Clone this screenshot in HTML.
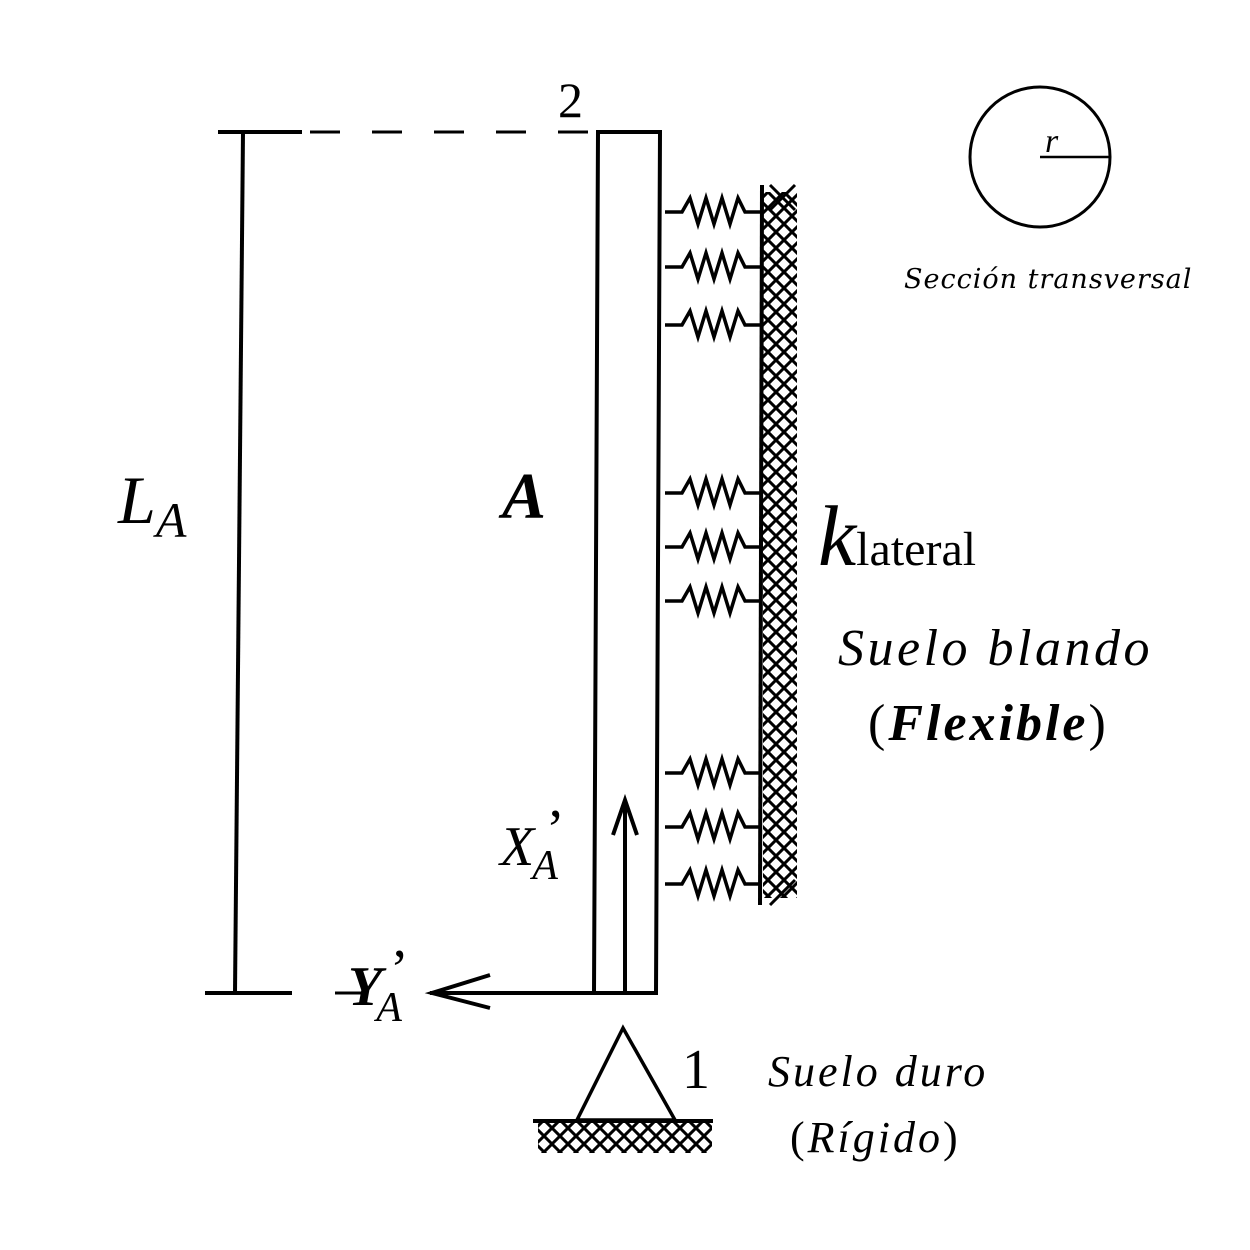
<!DOCTYPE html>
<html><head><meta charset="utf-8"><style>
html,body{margin:0;padding:0;background:#fff;width:1250px;height:1250px;overflow:hidden}
text{font-family:"Liberation Serif",serif;fill:#000}
</style></head><body>
<svg width="1250" height="1250" viewBox="0 0 1250 1250">
<defs>
<pattern id="hx" width="16" height="16" patternUnits="userSpaceOnUse">
<path d="M-4,-4 L20,20 M-4,12 L4,20 M12,-4 L20,4 M20,-4 L-4,20 M20,12 L12,20 M4,-4 L-4,4" stroke="#000" stroke-width="3"/>
</pattern>
</defs>
<g stroke="#000" fill="none" stroke-width="4">
<g>
<line x1="218" y1="132" x2="302" y2="132"/>
<line x1="310" y1="132" x2="590" y2="132" stroke-dasharray="30,32" stroke-width="3"/>
<line x1="243" y1="132" x2="235" y2="993"/>
<line x1="205" y1="993" x2="292" y2="993"/>
<line x1="335" y1="993" x2="362" y2="993" stroke-width="3"/>
</g>
<path d="M594,993 L598,132 L660,132 L656,993 Z"/>
<g>
<line x1="625" y1="993" x2="625" y2="800"/>
<polyline points="613,835 625,800 637,835"/>
</g>
<g>
<line x1="430" y1="993" x2="594" y2="993"/>
<polyline points="490,975 432,993 490,1008"/>
</g>
<line x1="762" y1="185" x2="760" y2="905"/>
<rect x="763" y="192" width="34" height="706" fill="url(#hx)" stroke="none"/>
<line x1="770" y1="185" x2="795" y2="210" stroke-width="3"/>
<line x1="795" y1="185" x2="770" y2="210" stroke-width="3"/>
<line x1="770" y1="905" x2="795" y2="880" stroke-width="3"/>
<g>
<polygon points="623,1028 577,1120 675,1120" stroke-width="3.5"/>
<line x1="533" y1="1121" x2="713" y2="1121"/>
<rect x="538" y="1123" width="174" height="30" fill="url(#hx)" stroke="none"/>
</g>
<g>
<circle cx="1040" cy="157" r="70" stroke-width="3"/>
<line x1="1040" y1="157" x2="1110" y2="157" stroke-width="2.5"/>
</g>
</g>
<g id="springs"></g>
<text x="1045" y="152" font-size="34" font-style="italic">r</text>
<text x="904" y="288" font-size="27" font-style="italic" letter-spacing="1" style="font-family:'DejaVu Serif',serif">Sección transversal</text>
<text x="558" y="117" font-size="50">2</text>
<text x="682" y="1088" font-size="56">1</text>
<text x="118" y="523" font-size="68" font-style="italic">L<tspan font-size="50" dy="14">A</tspan></text>
<text x="502" y="518" font-size="66" font-style="italic" font-weight="bold">A</text>
<text x="818" y="565" font-size="86" font-style="italic">k<tspan font-size="48" font-style="normal">lateral</tspan></text>
<text x="838" y="665" font-size="52" font-style="italic" letter-spacing="3.5">Suelo blando</text>
<text x="868" y="740" font-size="52" letter-spacing="3">(<tspan font-style="italic" font-weight="bold">Flexible</tspan>)</text>
<text x="500" y="865" font-size="56" font-style="italic">X<tspan font-size="42" dx="-2" dy="14">A</tspan></text>
<text x="546" y="848" font-size="56">’</text>
<text x="348" y="1005" font-size="56" font-style="italic" font-weight="bold">Y<tspan font-size="42" font-weight="normal" dx="-6" dy="16">A</tspan></text>
<text x="390" y="988" font-size="56">’</text>
<text x="768" y="1086" font-size="44" font-style="italic" letter-spacing="3">Suelo duro</text>
<text x="790" y="1152" font-size="44" letter-spacing="3">(<tspan font-style="italic">Rígido</tspan>)</text>
</svg>
<script>
const springYs=[212,267,325,493,547,601,773,827,884];
const g=document.getElementById('springs');
springYs.forEach(y=>{
  const p=document.createElementNS('http://www.w3.org/2000/svg','polyline');
  const pts=[[665,y],[682,y],[690,y-14],[698,y+12],[706,y-14],[714,y+12],[722,y-14],[730,y+12],[738,y-14],[745,y],[762,y]];
  p.setAttribute('points',pts.map(a=>a.join(',')).join(' '));
  p.setAttribute('fill','none');p.setAttribute('stroke','#000');p.setAttribute('stroke-width','3.5');
  
  
  g.appendChild(p);
});
</script>
</body></html>
